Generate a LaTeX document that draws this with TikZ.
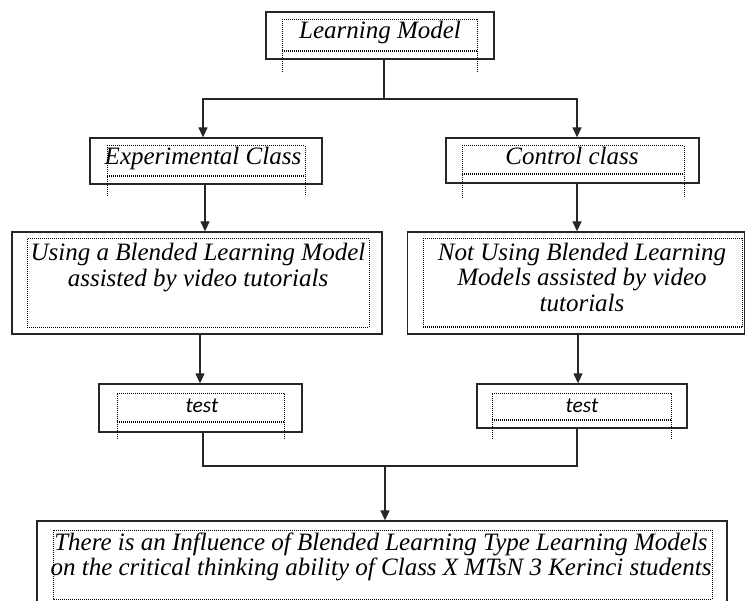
\documentclass[tikz,border=0pt]{standalone}
\usepackage{fontspec}
\setmainfont{Liberation Serif}
\newfontfamily\testfont{Carlito}
\usetikzlibrary{arrows.meta,calc}
\newcommand\legbox[5]{%
  \draw[dotline] (#1,#5) -- (#1,#3) -- (#2,#3) -- (#2,#5);
  \draw[dotline] (#1,#4-0.8) -- (#2,#4-0.8);
  \draw[dotline] (#1,#4+0.8) -- (#2,#4+0.8);}
\begin{document}
\begin{tikzpicture}[x=1pt,y=-1pt,
  outer/.style={draw=black!85, line width=1.3pt, inner sep=0pt},
  dotline/.style={line width=1pt, dash pattern=on 1pt off 1pt, black},
  conn/.style={line width=1.3pt, black!85},
  arr/.style={conn, -{Triangle[length=10pt,width=9pt]}},
  lbl/.style={font=\fontsize{25}{26}\selectfont\itshape, inner sep=0pt, align=center},
  tlbl/.style={font=\testfont\fontsize{21.5}{24}\selectfont\itshape, inner sep=0pt},
]
\clip (0,0) rectangle (746,601);
\fill[white] (0,0) rectangle (746,601);

% outer boxes
\node[outer, minimum width=228pt, minimum height=47pt] (lm) at (380,35.5) {};
\node[outer, minimum width=232pt, minimum height=46pt] (exp) at (206,161) {};
\node[outer, minimum width=253pt, minimum height=45pt] (ctl) at (572.5,160.5) {};
\node[outer, minimum width=370pt, minimum height=102pt] (use) at (197,283) {};
\node[outer, minimum width=337pt, minimum height=102pt] (not) at (576,283) {};
\node[outer, minimum width=203pt, minimum height=48pt] (t1) at (200.5,408) {};
\node[outer, minimum width=210pt, minimum height=44pt] (t2) at (582,406) {};
\node[outer, minimum width=690pt, minimum height=94pt] (res) at (382,568) {};

% dotted inner frames
\legbox{282}{477}{20}{51}{72}
\legbox{107}{305}{146}{176}{196}
\legbox{462}{684}{146}{174}{198}
\draw[dotline] (27,239) rectangle (369,327);
\legbox{423}{742}{239}{327}{327}
\legbox{117}{284}{393}{422}{439}
\legbox{492}{671}{393}{420}{439}
\draw[dotline] (53,530) rectangle (712,599);

% texts
\node[lbl, anchor=base] (lmt) at (380,39) {Learning Model};
\node[lbl, anchor=base] (expt) at (203,165) {Experimental Class};
\node[lbl, anchor=base] (ctlt) at (572,165) {Control class};
\node[lbl, anchor=north] (uset) at (198,242.5) {Using a Blended Learning Model\\assisted by video tutorials};
\node[lbl, anchor=north, font=\fontsize{25}{25.5}\selectfont\itshape] (nott) at (582,242.5) {Not Using Blended Learning\\Models assisted by video\\tutorials};
\node[tlbl, anchor=base] (t1t) at (202,412) {test};
\node[tlbl, anchor=base] (t2t) at (582,412) {test};
\node[lbl, anchor=north, font=\fontsize{25}{25}\selectfont\itshape] (rest) at (381,532.5) {There is an Influence of Blended Learning Type Learning Models\\on the critical thinking ability of Class X MTsN 3 Kerinci students};

% connectors
\coordinate (j1) at (384,99);
\coordinate (j2) at (385,466);
\draw[conn] ([xshift=4pt]lm.south) -- (j1);
\draw[arr] (j1) -| ([xshift=-3pt]exp.north);
\draw[arr] (j1) -| ([xshift=4.5pt]ctl.north);
\draw[arr] ([xshift=-1pt]exp.south) -- ([xshift=-1pt]use.north -| exp.south);
\draw[arr] ([xshift=4.5pt]ctl.south) -- ([xshift=4.5pt]not.north -| ctl.south);
\draw[arr] ([xshift=3pt]use.south) -- ([xshift=3pt]t1.north -| use.south);
\draw[arr] ([xshift=2pt]not.south) -- ([xshift=2pt]t2.north -| not.south);
\draw[conn] ([xshift=2.5pt]t1.south) |- (j2);
\draw[conn] ([xshift=-5pt]t2.south) |- (j2);
\draw[arr] (j2) -- (j2 |- res.north);
\end{tikzpicture}
\end{document}
